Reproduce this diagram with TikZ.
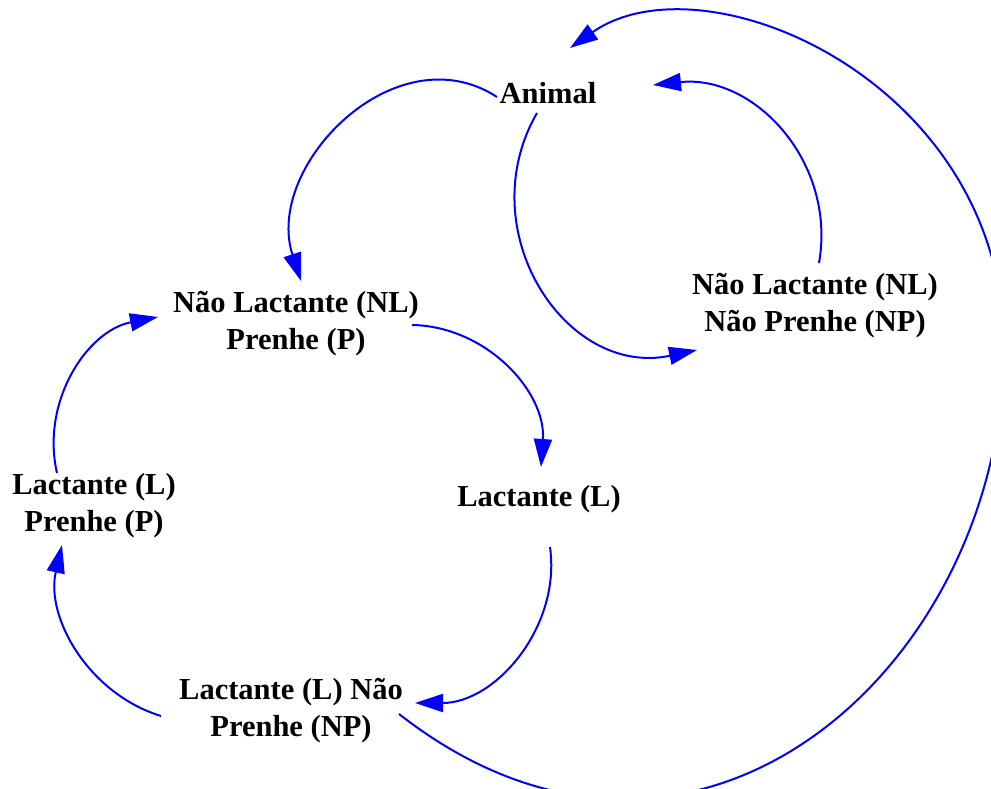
\documentclass[tikz,border=0pt]{standalone}
\usepackage{fontspec}
\setmainfont{Liberation Serif}
\usetikzlibrary{arrows.meta}

\begin{document}
\begin{tikzpicture}[
  x=1pt, y=1pt,
  font=\fontsize{30.5}{36.5}\selectfont\bfseries,
  phase/.style={align=center, anchor=base, inner sep=0pt},
  arr/.style={-{Triangle[length=28pt, width=18pt]}, line width=2pt, draw=blue}
]
\useasboundingbox (0,0) rectangle (991,789);
% base anchor sits on the last line of each label
\node[phase] (animal) at (548,685) {Animal};
\node[phase] (nlp) at (296,439.5) {Não Lactante (NL)\\Prenhe (P)};
\node[phase] (nlnp) at (815,457.5) {Não Lactante (NL)\\Não Prenhe (NP)};
\node[phase] (lac) at (539,282) {Lactante (L)};
\node[phase] (lp) at (94,257.5) {Lactante (L)\\Prenhe (P)};
\node[phase] (lnp) at (291,52.5) {Lactante (L) Não\\Prenhe (NP)};
\coordinate (rim) at (1004,442);
% cycle on the left
\draw[arr] ([shift={(-51,7)}]animal.base) to[out=147, in=108, looseness=1.15] ([shift={(5,68.5)}]nlp.base);
\draw[arr] ([shift={(116,24.5)}]nlp.base) to[out=-1, in=86] ([shift={(2,40)}]lac.base);
\draw[arr] ([shift={(11,-40)}]lac.base) to[out=-82, in=0] ([shift={(124,33.5)}]lnp.base);
\draw[arr] ([shift={(-130,20.5)}]lnp.base) to[out=163, in=-103, looseness=0.97] ([shift={(-32,-13.5)}]lp.base);
\draw[arr] ([shift={(-37,58.5)}]lp.base) to[out=103, in=191] ([shift={(-138,32.5)}]nlp.base);
% loop on the right
\draw[arr] ([shift={(-11,-9)}]animal.base) to[out=240, in=192, looseness=1.21] ([shift={(-118,-18.5)}]nlnp.base);
\draw[arr] ([shift={(4,68.5)}]nlnp.base) to[out=80, in=6, looseness=1.07] ([shift={(105,19)}]animal.base);
% long way back
\draw[arr] ([shift={(108,22.5)}]lnp.base) to[out=-38, in=-90, out distance=375pt, in distance=320pt] (rim)
  to[out=90, in=35, out distance=265pt, in distance=165pt] ([shift={(22,56)}]animal.base);
\end{tikzpicture}
\end{document}
